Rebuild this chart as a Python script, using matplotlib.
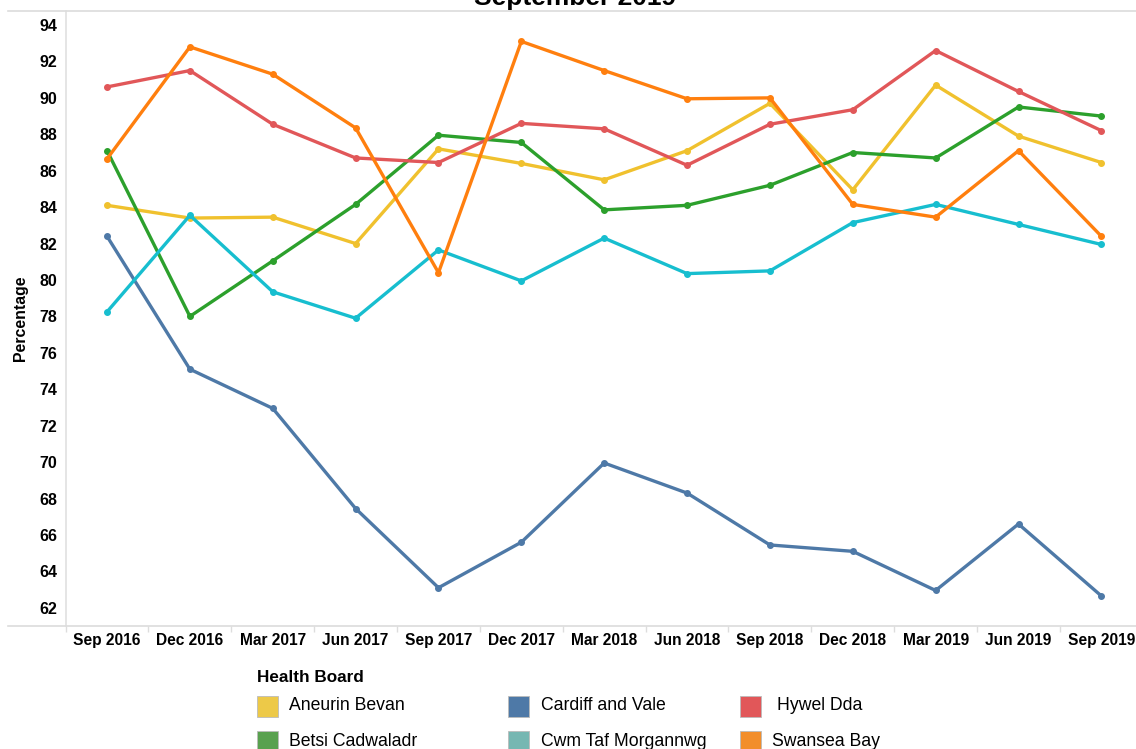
import matplotlib
matplotlib.use("Agg")
import matplotlib.pyplot as plt
from matplotlib.lines import Line2D
from matplotlib.patches import Rectangle

plt.rcParams['font.family'] = ['Liberation Sans', 'DejaVu Sans']

quarters = ["Sep 2016", "Dec 2016", "Mar 2017", "Jun 2017", "Sep 2017", "Dec 2017",
            "Mar 2018", "Jun 2018", "Sep 2018", "Dec 2018", "Mar 2019", "Jun 2019", "Sep 2019"]

aneurin_bevan = [84.1, 83.4, 83.45, 82.0, 87.2, 86.4, 85.5, 87.1, 89.7, 84.95, 90.7, 87.9, 86.45]
betsi_cadwaladr = [87.1, 78.0, 81.05, 84.15, 87.95, 87.55, 83.85, 84.1, 85.2, 87.0, 86.7, 89.5, 89.0]
cardiff_and_vale = [82.4, 75.1, 72.95, 67.45, 63.1, 65.6, 69.95, 68.3, 65.45, 65.1, 62.95, 66.6, 62.65]
cwm_taf_morgannwg = [78.25, 83.55, 79.35, 77.9, 81.65, 79.95, 82.3, 80.35, 80.5, 83.15, 84.15, 83.05, 81.95]
hywel_dda = [90.6, 91.5, 88.55, 86.7, 86.45, 88.6, 88.3, 86.3, 88.55, 89.35, 92.6, 90.35, 88.2]
swansea_bay = [86.65, 92.8, 91.3, 88.35, 80.4, 93.1, 91.5, 89.95, 90.0, 84.15, 83.45, 87.1, 82.4]

boards = ["Aneurin Bevan", "Betsi Cadwaladr", "Cardiff and Vale",
          "Cwm Taf Morgannwg", "Hywel Dda", "Swansea Bay"]
series = [aneurin_bevan, betsi_cadwaladr, cardiff_and_vale,
          cwm_taf_morgannwg, hywel_dda, swansea_bay]
line_colors = ["#F0C12E", "#2CA02C", "#4E79A7", "#17BECF", "#E15759", "#FF7F0E"]
legend_colors = ["#EDC948", "#59A14F", "#4E79A7", "#76B7B2", "#E15759", "#F28E2B"]
yticks = list(range(62, 95, 2))

W, H = 1136, 749
fig = plt.figure(figsize=(W / 100, H / 100), dpi=100)

def px(x, y):
    return x / W, 1 - y / H

x0, x1 = 65.6, 1142.8
ytop, ybot = 11, 626
ax = fig.add_axes([x0 / W, 1 - ybot / H, (x1 - x0) / W, (ybot - ytop) / H])

xs = list(range(len(quarters)))
for name, vals, c in zip(boards, series, line_colors):
    ax.plot(xs, vals, color=c, lw=2.4, marker='o', markersize=4,
            solid_joinstyle='round', solid_capstyle='round', label=name, clip_on=False)

ax.set_xlim(-0.5, 12.5)
ax.set_ylim(61.0, 94.77)
ax.set_yticks(yticks)
ax.set_yticklabels([str(t) for t in yticks], fontsize=11.5, fontweight='bold')
ax.set_xticks(xs)
ax.set_xticklabels(quarters, fontsize=11.2, fontweight='bold')
ax.set_xticks([i - 0.5 for i in range(len(quarters) + 1)], minor=True)
ax.tick_params(axis='x', which='major', length=0, pad=5)
ax.tick_params(axis='x', which='minor', length=4, color='#dddddd', width=1)
ax.tick_params(axis='y', length=0, pad=6)
for s in ['top', 'right', 'bottom']:
    ax.spines[s].set_visible(False)
ax.spines['left'].set_color('#e0e0e0')
ax.spines['left'].set_linewidth(1.2)

# top and bottom border lines
for yy in (ytop, ybot):
    fx0, fy = px(8, yy)
    fig.add_artist(Line2D([fx0, 1.0], [fy, fy], color='#dcdcdc', lw=1.2))

# title (cut off at top, as in the original)
fig.text(575 / W, 1 - 4.5 / H, "September 2019", ha='center', va='baseline',
         fontsize=19, fontweight='bold')

# y label
fig.text(21 / W, 1 - 318 / H, "Percentage", rotation=90, ha='center', va='center',
         fontsize=11.4, fontweight='bold')

# legend
fig.text(257 / W, 1 - 677 / H, "Health Board", ha='left', va='center',
         fontsize=12.3, fontweight='bold')
col_x = [257, 508, 740]
text_x = [[289, 289], [541, 541], [777, 772]]
row_y = [706, 741]
for i, (name, c) in enumerate(zip(boards, legend_colors)):
    col, row = i // 2, i % 2
    sx, sy = col_x[col], row_y[row]
    fig.add_artist(Rectangle((sx / W, 1 - (sy + 10.5) / H), 21 / W, 21 / H,
                             facecolor=c, edgecolor='#bbbbbb', lw=0.6,
                             transform=fig.transFigure))
    fig.text(text_x[col][row] / W, 1 - sy / H, name, ha='left', va='center', fontsize=12.7)

fig.savefig("out.png", dpi=100)
